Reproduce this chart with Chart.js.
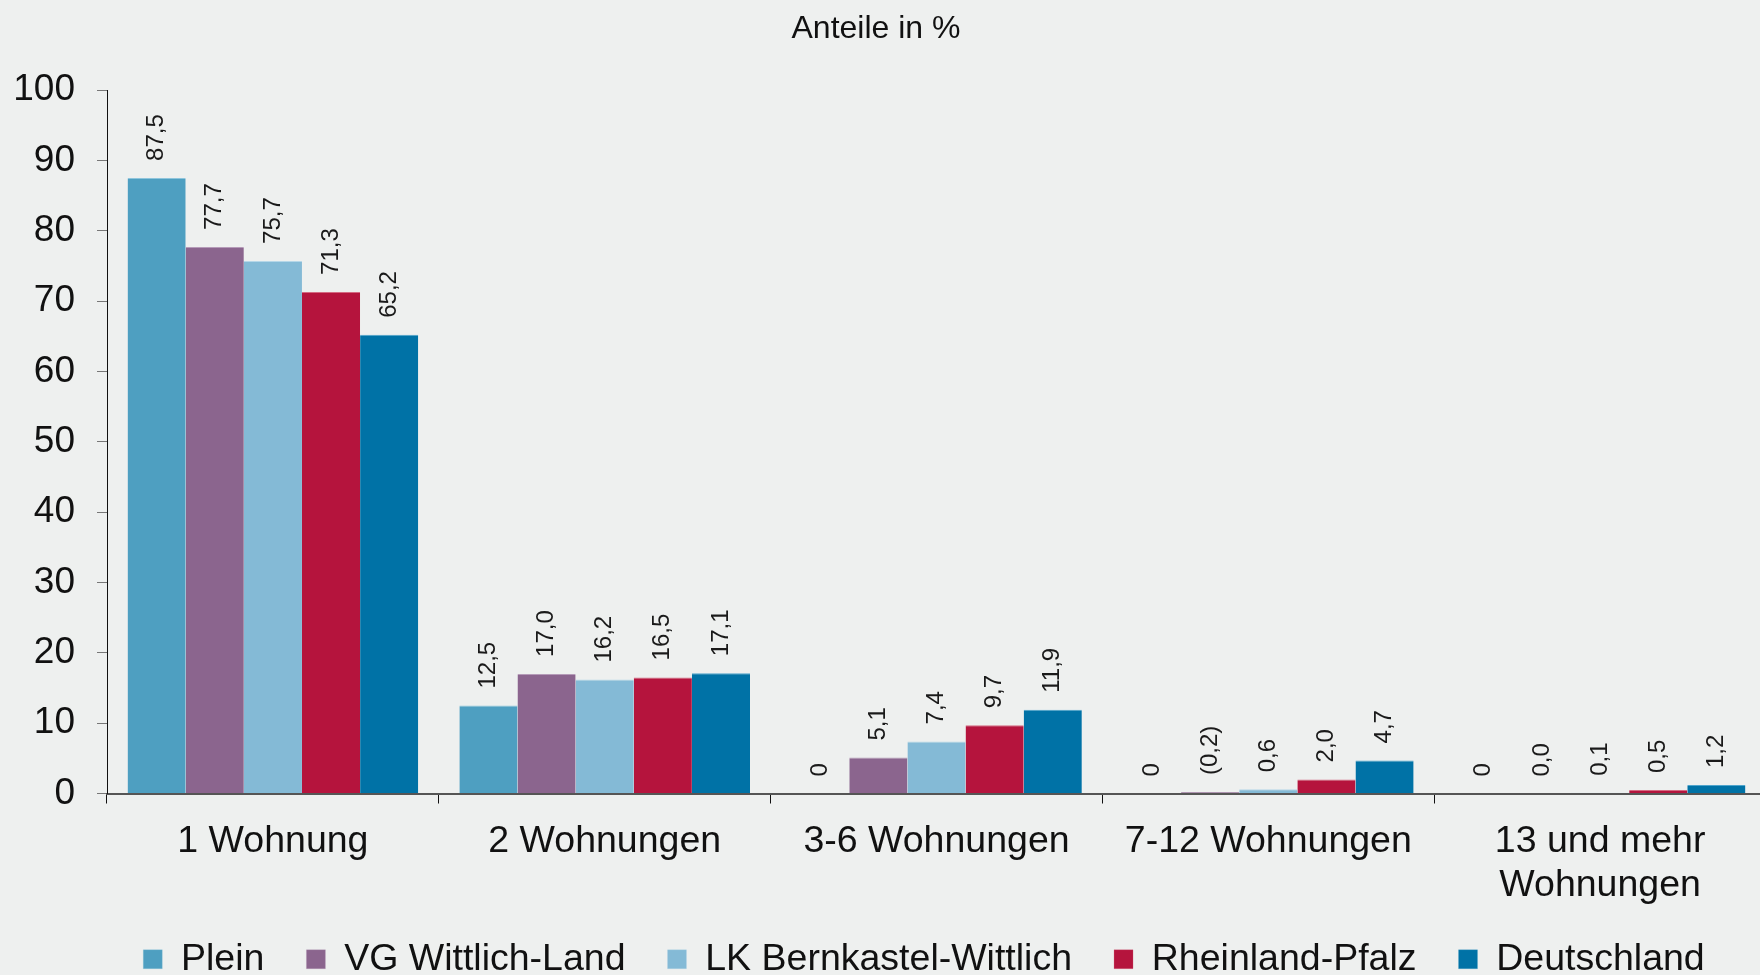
<!DOCTYPE html>
<html lang="de">
<head>
<meta charset="utf-8">
<title>Anteile in %</title>
<script src="https://cdn.jsdelivr.net/npm/chart.js@4.4.1/dist/chart.umd.min.js"></script>
<style>
  html, body { margin: 0; padding: 0; background: #eef0ef; overflow: hidden; }
  #wrap { position: relative; width: 1760px; height: 975px; overflow: hidden; }
  #title { position: absolute; top: 0; left: 0; width: 1752px; text-align: center;
           font: 32px "Liberation Sans", Arial, sans-serif; line-height: 54px; color: #111; }
  #chart { position: absolute; top: 0; left: 0; }
</style>
</head>
<body>
<div id="wrap">
  <canvas id="chart" width="1766" height="988"></canvas>
  <div id="title">Anteile in %</div>
</div>
<script>
// Gebäude nach Anzahl der Wohnungen, Anteile in %
const categories = ['1 Wohnung', '2 Wohnungen', '3-6 Wohnungen', '7-12 Wohnungen', ['13 und mehr', 'Wohnungen']];

const plein          = [87.5, 12.5, 0, 0, 0];
const vgWittlichLand = [77.7, 17.0, 5.1, 0.2, 0.0];
const lkBernkastel   = [75.7, 16.2, 7.4, 0.6, 0.1];
const rheinlandPfalz = [71.3, 16.5, 9.7, 2.0, 0.5];
const deutschland    = [65.2, 17.1, 11.9, 4.7, 1.2];

// labels as printed above the bars
const pleinLabels = ['87,5', '12,5', '0', '0', '0'];
const vgLabels    = ['77,7', '17,0', '5,1', '(0,2)', '0,0'];

const yMin = 0, yMax = 100, yStep = 10;

const FONT = '"Liberation Sans", Arial, sans-serif';
Chart.defaults.font.family = FONT;
Chart.defaults.color = '#111';

const fmt = arr => arr.map(v => v.toFixed(1).replace('.', ','));

function series(label, data, color, topColor, valueLabels) {
  return {
    label, data,
    backgroundColor: color,
    borderColor: topColor,
    borderWidth: { top: 1, left: 0, right: 0, bottom: 0 },
    borderSkipped: 'start',
    valueLabels
  };
}

const valueLabelPlugin = {
  id: 'valueLabels',
  afterDatasetsDraw(chart) {
    const ctx = chart.ctx;
    ctx.save();
    ctx.font = '24px ' + FONT;
    ctx.fillStyle = '#1a1a1a';
    ctx.textAlign = 'left';
    ctx.textBaseline = 'middle';
    chart.data.datasets.forEach((ds, i) => {
      chart.getDatasetMeta(i).data.forEach((bar, j) => {
        ctx.save();
        ctx.translate(bar.x, bar.y - 17);
        ctx.rotate(-Math.PI / 2);
        ctx.fillText(ds.valueLabels[j], 0, 0);
        ctx.restore();
      });
    });
    ctx.restore();
  }
};

// legend row sits a little right of the canvas centre; x labels may run into the legend band
const layoutTweaks = {
  id: 'layoutTweaks',
  afterLayout(chart) {
    if (chart.legend) {
      chart.legend.left += 41;
      chart.legend.right += 41;
    }
    chart.scales.x.bottom += 20;
  }
};

new Chart(document.getElementById('chart'), {
  type: 'bar',
  data: {
    labels: categories,
    datasets: [
      series('Plein', plein, '#4e9fc1', '#8ec5dc', pleinLabels),
      series('VG Wittlich-Land', vgWittlichLand, '#8b658e', '#b59bb8', vgLabels),
      series('LK Bernkastel-Wittlich', lkBernkastel, '#84bad6', '#b6d7e8', fmt(lkBernkastel)),
      series('Rheinland-Pfalz', rheinlandPfalz, '#b5143d', '#d46a82', fmt(rheinlandPfalz)),
      series('Deutschland', deutschland, '#0072a6', '#4ea4cc', fmt(deutschland))
    ]
  },
  options: {
    responsive: false,
    animation: false,
    events: [],
    layout: { padding: { top: 90, left: 0, right: 0, bottom: 0 } },
    datasets: { bar: { categoryPercentage: 0.876, barPercentage: 1.0 } },
    plugins: {
      title: { display: false },
      tooltip: { enabled: false },
      legend: {
        position: 'bottom',
        labels: { boxWidth: 19, boxHeight: 19, padding: 42, font: { size: 37.5 }, color: '#111' }
      }
    },
    scales: {
      x: {
        grid: { offset: true, drawOnChartArea: false, drawTicks: true, tickLength: 10, color: '#111', lineWidth: 1 },
        border: { display: true, color: '#555', width: 2 },
        ticks: { font: { size: 37.5, lineHeight: 1.15 }, padding: 17, maxRotation: 0, autoSkip: false, color: '#111' },
        afterFit: s => { s.height = 105; }
      },
      y: {
        min: yMin, max: yMax,
        grid: { drawOnChartArea: false, drawTicks: true, tickLength: 10, color: '#777' },
        border: { display: true, color: '#111', width: 1 },
        ticks: { stepSize: yStep, font: { size: 37 }, padding: 22, color: '#111' },
        afterFit: s => { s.width = 107; }
      }
    }
  },
  plugins: [valueLabelPlugin, layoutTweaks]
});
</script>
</body>
</html>
